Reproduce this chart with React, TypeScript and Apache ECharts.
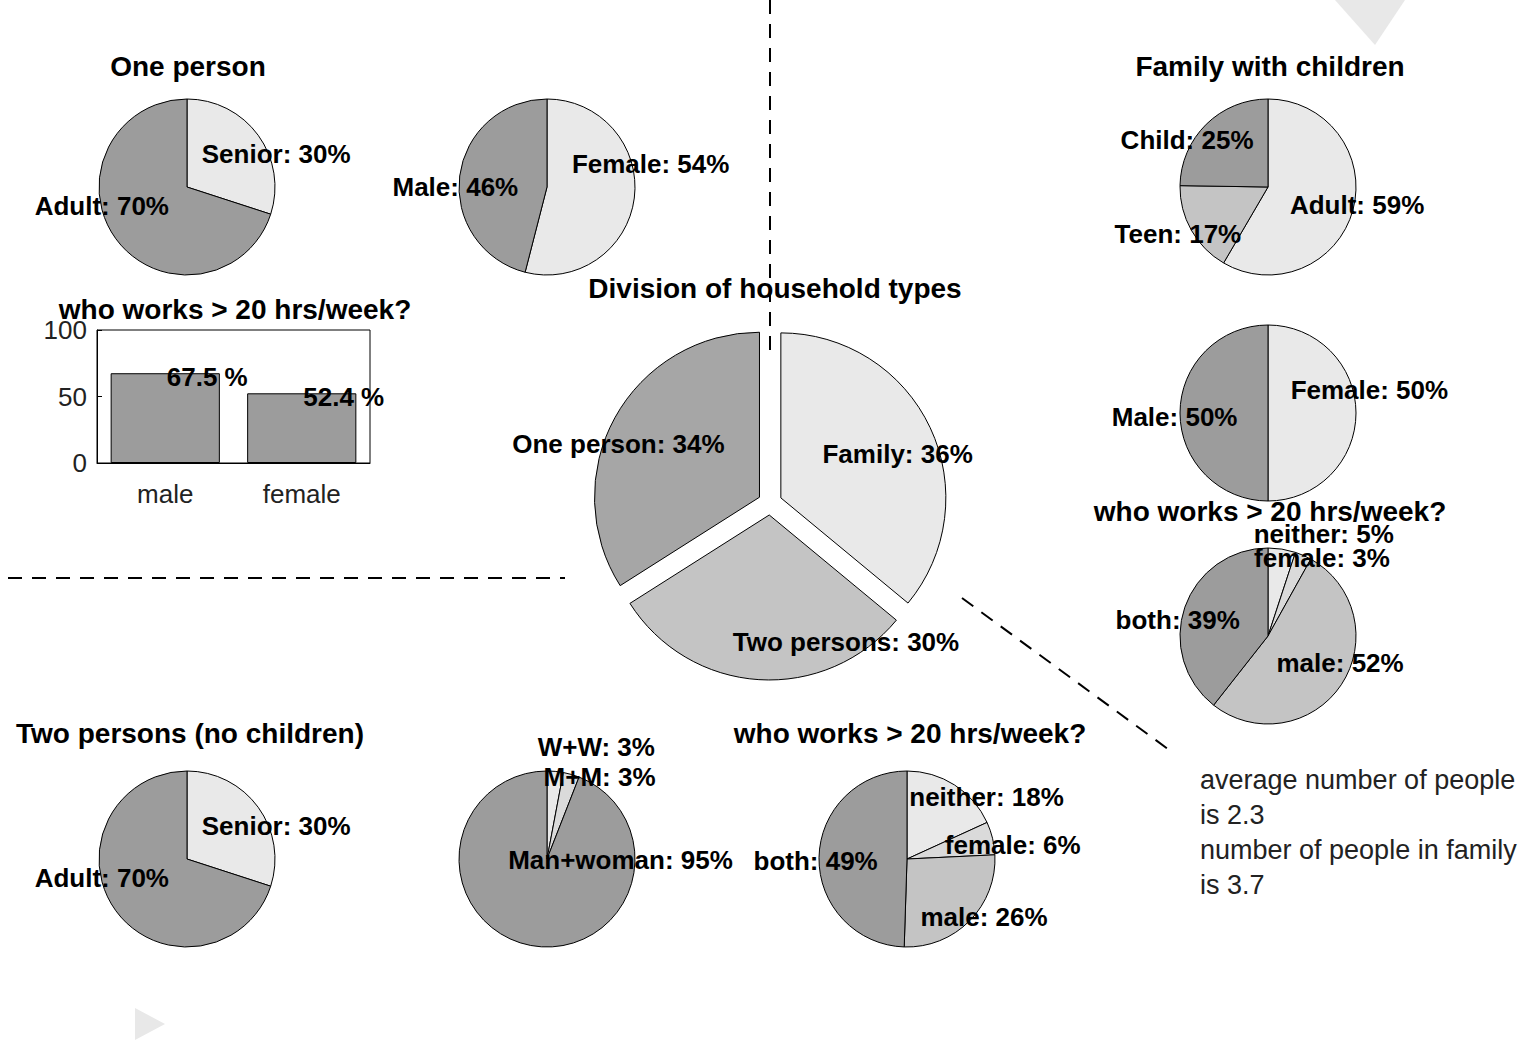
import React, { useEffect, useRef } from "react";
import * as echarts from "echarts";

const FONT = "Liberation Sans";
const LIGHT = "#e9e9e9";
const LIGHT2 = "#dadada";
const MID = "#c4c4c4";
const DARK = "#9c9c9c";

// top left: one person
const onePersonNames = ["Senior", "Adult"];
const onePersonValues = [30, 70];
const oneSexNames = ["Female", "Male"];
const oneSexValues = [54, 46];
const barCats = ["male", "female"];
const barValues = [67.5, 52.4];
const barTicks = [0, 50, 100];

// right: family with children
const famAgeNames = ["Adult", "Teen", "Child"];
const famAgeValues = [59, 17, 25];
const famSexNames = ["Female", "Male"];
const famSexValues = [50, 50];
const famWorkNames = ["neither", "female", "male", "both"];
const famWorkValues = [5, 3, 52, 39];

// centre
const mainNames = ["Family", "Two persons", "One person"];
const mainValues = [36, 30, 34];

// bottom: two persons
const twoAgeNames = ["Senior", "Adult"];
const twoAgeValues = [30, 70];
const twoPairNames = ["W+W", "M+M", "Man+woman"];
const twoPairValues = [3, 3, 95];
const twoWorkNames = ["neither", "female", "male", "both"];
const twoWorkValues = [18, 6, 26, 49];

const notes = ["average number of people", "is 2.3", "number of people in family", "is 3.7"];

type PieDef = {
  names: string[];
  values: number[];
  colors: string[];
  cx: number;
  cy: number;
  r: number;
  labelR?: number;
  offsets?: number[][];
  explode?: boolean;
};

const pieSeries = (p: PieDef) => {
  const lr = p.labelR ?? 1.0;
  const data = p.names.map((n, i) => ({
    name: n,
    value: p.values[i],
    itemStyle: { color: p.colors[i] },
    selected: !!p.explode,
  }));
  return [
    {
      type: "pie",
      center: [p.cx, p.cy],
      radius: [0, p.r],
      startAngle: 90,
      clockwise: true,
      selectedMode: p.explode ? "multiple" : false,
      selectedOffset: 12,
      silent: true,
      label: { show: false },
      labelLine: { show: false },
      itemStyle: { borderColor: "#000", borderWidth: 1 },
      data,
    },
    {
      type: "pie",
      center: [p.cx, p.cy],
      radius: [p.r * (lr - 0.3), p.r * (lr + 0.3)],
      startAngle: 90,
      clockwise: true,
      silent: true,
      avoidLabelOverlap: false,
      labelLayout: { hideOverlap: false },
      z: 5,
      itemStyle: { color: "transparent" },
      label: {
        show: true,
        position: "inside",
        formatter: "{b}: {c}%",
        color: "#000",
        fontFamily: FONT,
        fontWeight: "bold",
        fontSize: 26,
      },
      labelLine: { show: false },
      data: p.names.map((n, i) => ({
        name: n,
        value: p.values[i],
        label: { offset: p.offsets ? p.offsets[i] : [0, 0] },
      })),
    },
  ];
};

const title = (text: string, x: number, y: number, size = 28) => ({
  type: "text",
  x,
  y,
  style: {
    text,
    fill: "#000",
    font: `bold ${size}px "${FONT}"`,
    align: "center",
    verticalAlign: "middle",
  },
});

const dash = (x1: number, y1: number, x2: number, y2: number) => ({
  type: "line",
  shape: { x1, y1, x2, y2 },
  style: { stroke: "#000", lineWidth: 2, lineDash: [14, 10] },
});

const App = () => {
  const chartRef = useRef<HTMLDivElement>(null);

  useEffect(() => {
    document.body.style.margin = "0";
    if (!chartRef.current) return;
    const chart = echarts.init(chartRef.current, null, { renderer: "svg" });

    const option = {
      animation: false,
      backgroundColor: "#fff",
      grid: { left: 97, top: 330, width: 273, height: 133, show: true, borderColor: "#000", backgroundColor: "transparent" },
      xAxis: {
        type: "category",
        data: barCats,
        axisTick: { show: false },
        axisLine: { lineStyle: { color: "#000" } },
        axisLabel: { color: "#222", fontSize: 26, fontFamily: FONT, margin: 18 },
      },
      yAxis: {
        type: "value",
        min: barTicks[0],
        max: barTicks[barTicks.length - 1],
        interval: 50,
        splitLine: { show: false },
        axisTick: { show: true, inside: true, lineStyle: { color: "#000" } },
        axisLine: { show: true, lineStyle: { color: "#000" } },
        axisLabel: { color: "#222", fontSize: 26, fontFamily: FONT, margin: 10 },
      },
      series: [
        {
          type: "bar",
          data: barValues,
          barWidth: "80%",
          itemStyle: { color: DARK, borderColor: "#000", borderWidth: 1 },
          label: {
            show: true,
            position: "top",
            offset: [42, 22],
            formatter: "{c} %",
            color: "#000",
            fontWeight: "bold",
            fontSize: 26,
            fontFamily: FONT,
          },
        },
        ...pieSeries({ names: onePersonNames, values: onePersonValues, colors: [LIGHT, DARK], cx: 187, cy: 187, r: 88, labelR: 1.05, offsets: [[12, 23], [-8, -37]] }),
        ...pieSeries({ names: oneSexNames, values: oneSexValues, colors: [LIGHT, DARK], cx: 547, cy: 187, r: 88, labelR: 1.05, offsets: [[9, -35], [3, 12]] }),
        ...pieSeries({ names: famAgeNames, values: famAgeValues, colors: [LIGHT, MID, DARK], cx: 1268, cy: 187, r: 88, labelR: 1.05, offsets: [[-3, -7], [-7, 0], [-14, 21]] }),
        ...pieSeries({ names: famSexNames, values: famSexValues, colors: [LIGHT, DARK], cx: 1268, cy: 413, r: 88, labelR: 1.05, offsets: [[6, -23], [2, 4]] }),
        ...pieSeries({ names: famWorkNames, values: famWorkValues, colors: [LIGHT, LIGHT2, MID, DARK], cx: 1268, cy: 636, r: 88, labelR: 1.1, offsets: [[40, -3], [14, 13], [-11, -28], [4, 17]] }),
        ...pieSeries({ names: mainNames, values: mainValues, colors: [LIGHT, MID, "#a6a6a6"], cx: 770, cy: 503, r: 165, labelR: 0.85, explode: true, offsets: [[-2, 12], [85, -4], [-26, 10]] }),
        ...pieSeries({ names: twoAgeNames, values: twoAgeValues, colors: [LIGHT, DARK], cx: 187, cy: 859, r: 88, labelR: 1.05, offsets: [[12, 23], [-8, -37]] }),
        ...pieSeries({ names: twoPairNames, values: twoPairValues, colors: [LIGHT, LIGHT2, DARK], cx: 547, cy: 859, r: 88, labelR: 1.1, offsets: [[40, -13], [25, 14], [92, -97]] }),
        ...pieSeries({ names: twoWorkNames, values: twoWorkValues, colors: [LIGHT, LIGHT2, MID, DARK], cx: 907, cy: 859, r: 88, labelR: 1.05, offsets: [[28, 18], [13, 8], [9, -9], [4, 4]] }),
      ],
      graphic: [
        dash(770, 0, 770, 350),
        dash(8, 578, 565, 578),
        dash(962, 598, 1172, 752),
        title("One person", 188, 66),
        title("Family with children", 1270, 66),
        title("who works > 20 hrs/week?", 235, 309),
        title("Division of household types", 775, 288),
        title("who works > 20 hrs/week?", 1270, 511),
        title("Two persons (no children)", 190, 733),
        title("who works > 20 hrs/week?", 910, 733),
        ...notes.map((t, i) => ({
          type: "text",
          x: 1200,
          y: 780 + i * 35,
          style: { text: t, fill: "#222", font: `27px "${FONT}"`, verticalAlign: "middle" },
        })),
        { type: "polygon", shape: { points: [[1335, 0], [1405, 0], [1375, 45]] }, style: { fill: "#e8e8e8" } },
        { type: "polygon", shape: { points: [[135, 1008], [165, 1024], [135, 1040]] }, style: { fill: "#e8e8e8" } },
      ],
    };

    chart.setOption(option);
    return () => chart.dispose();
  }, []);

  return <div ref={chartRef} style={{ width: "1526px", height: "1057px" }} />;
};

export default App;
